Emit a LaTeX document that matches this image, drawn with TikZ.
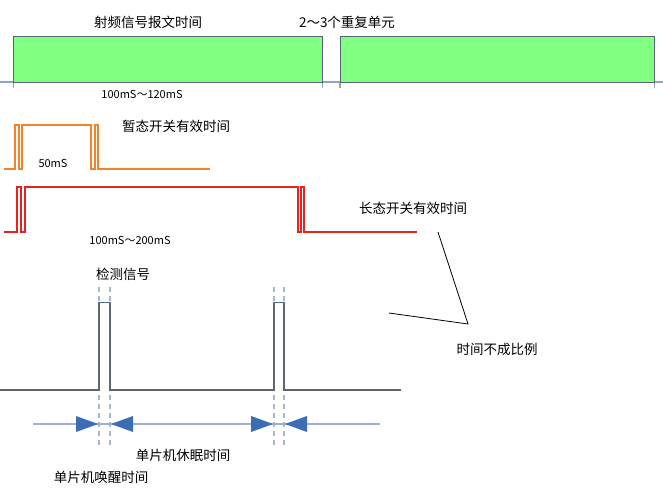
\documentclass[tikz,border=0pt]{standalone}
\usepackage{fontspec}
\newfontfamily\cjk{Noto Sans CJK SC}
\definecolor{boxgreen}{HTML}{80FF80}
\definecolor{boxedge}{HTML}{5A6470}
\definecolor{axisblue}{HTML}{8EA6C6}
\definecolor{orangesig}{HTML}{F5832A}
\definecolor{redsig}{HTML}{E8231F}
\definecolor{graysig}{HTML}{5E6670}
\definecolor{toplineblue}{HTML}{4F6E96}
\definecolor{dashblue}{HTML}{A4B8D0}
\definecolor{arrowline}{HTML}{9AB0D4}
\definecolor{arrowfill}{HTML}{3A6DB5}
\begin{document}
\begin{tikzpicture}[x=1pt,y=-1pt,
  lbl/.style={font=\cjk\fontsize{13.5}{15}\selectfont, inner sep=0pt},
  num/.style={font=\cjk\fontsize{11}{13}\selectfont, inner sep=0pt},
  axisline/.style={draw=axisblue, line width=1.2pt},
  boxline/.style={draw=boxedge, line width=1pt},
  sigline/.style={line width=1.8pt, line join=miter},
  detline/.style={draw=graysig, line width=1.4pt},
  dashline/.style={draw=dashblue, line width=1.2pt, dash pattern=on 5pt off 4pt},
  arrline/.style={draw=arrowline, line width=1.4pt},
  arrhead/.style={fill=arrowfill},
  noteline/.style={draw=black, line width=0.8pt}]
\useasboundingbox[fill=white] (0,0) rectangle (663,487);

% top section
\draw[axisline] (0,82) -- (663,82);
\fill[boxgreen] (13.5,37) rectangle (322.5,82);
\fill[boxgreen] (340,37) rectangle (654.5,82);
\draw[axisline] (13.5,82) -- (13.5,88) (322.5,82) -- (322.5,88)
  (340,82) -- (340,88) (654.5,82) -- (654.5,88);
\draw[boxline] (13.5,82) -- (13.5,37) -- (322.5,37) -- (322.5,82) -- cycle;
\draw[boxline] (340,82) -- (340,37) -- (654.5,37) -- (654.5,82) -- cycle;
\node[lbl] (rf) at (148,22) {射频信号报文时间};
\node[lbl] (rep) at (347,22) {2～3个重复单元};
\node[num] (t1) at (142,94) {100mS～120mS};

% transient switch (orange)
\draw[sigline, draw=orangesig] (4,169) -- (15,169) -- (15,125) -- (19,125) -- (19,169)
  -- (22,169) -- (22,125) -- (91,125) -- (91,169) -- (95,169) -- (95,125)
  -- (98,125) -- (98,169) -- (210,169);
\node[lbl] (tr) at (176,126) {暂态开关有效时间};
\node[num] (t2) at (53,163) {50mS};

% long switch (red)
\draw[sigline, draw=redsig] (4,232) -- (17,232) -- (17,187) -- (21,187) -- (21,232)
  -- (25,232) -- (25,187) -- (298,187) -- (298,232) -- (301,232) -- (301,187)
  -- (304,187) -- (304,232) -- (417,232);
\node[lbl] (lg) at (413,208) {长态开关有效时间};
\node[num] (t3) at (130,240) {100mS～200mS};

% note lines
\coordinate (n1) at (438,232);
\coordinate (n2) at (468,324);
\coordinate (n3) at (389,313);
\draw[noteline] (n1) -- (n2) -- (n3);
\node[lbl] (note) at (497,349) {时间不成比例};

% detection signal
\foreach \x in {99,110,274,284} \draw[dashline] (\x,287) -- (\x,448);
\draw[detline] (0,390) -- (99,390) -- (99,302) (110,302) -- (110,390)
  -- (274,390) -- (274,302) (284,302) -- (284,390) -- (401,390);
\draw[draw=toplineblue, line width=1pt] (99,302) -- (110,302) (274,302) -- (284,302);
\node[lbl] (det) at (123,274) {检测信号};

% arrows
\draw[arrline] (33,424) -- (380,424);
\fill[arrhead] (76,416) -- (98,424) -- (76,432) -- cycle;
\fill[arrhead] (133,416) -- (111,424) -- (133,432) -- cycle;
\fill[arrhead] (251,416) -- (273,424) -- (251,432) -- cycle;
\fill[arrhead] (307,416) -- (285,424) -- (307,432) -- cycle;
\node[lbl] (sleep) at (183,455) {单片机休眠时间};
\node[lbl] (wake) at (101,477) {单片机唤醒时间};
\end{tikzpicture}
\end{document}
